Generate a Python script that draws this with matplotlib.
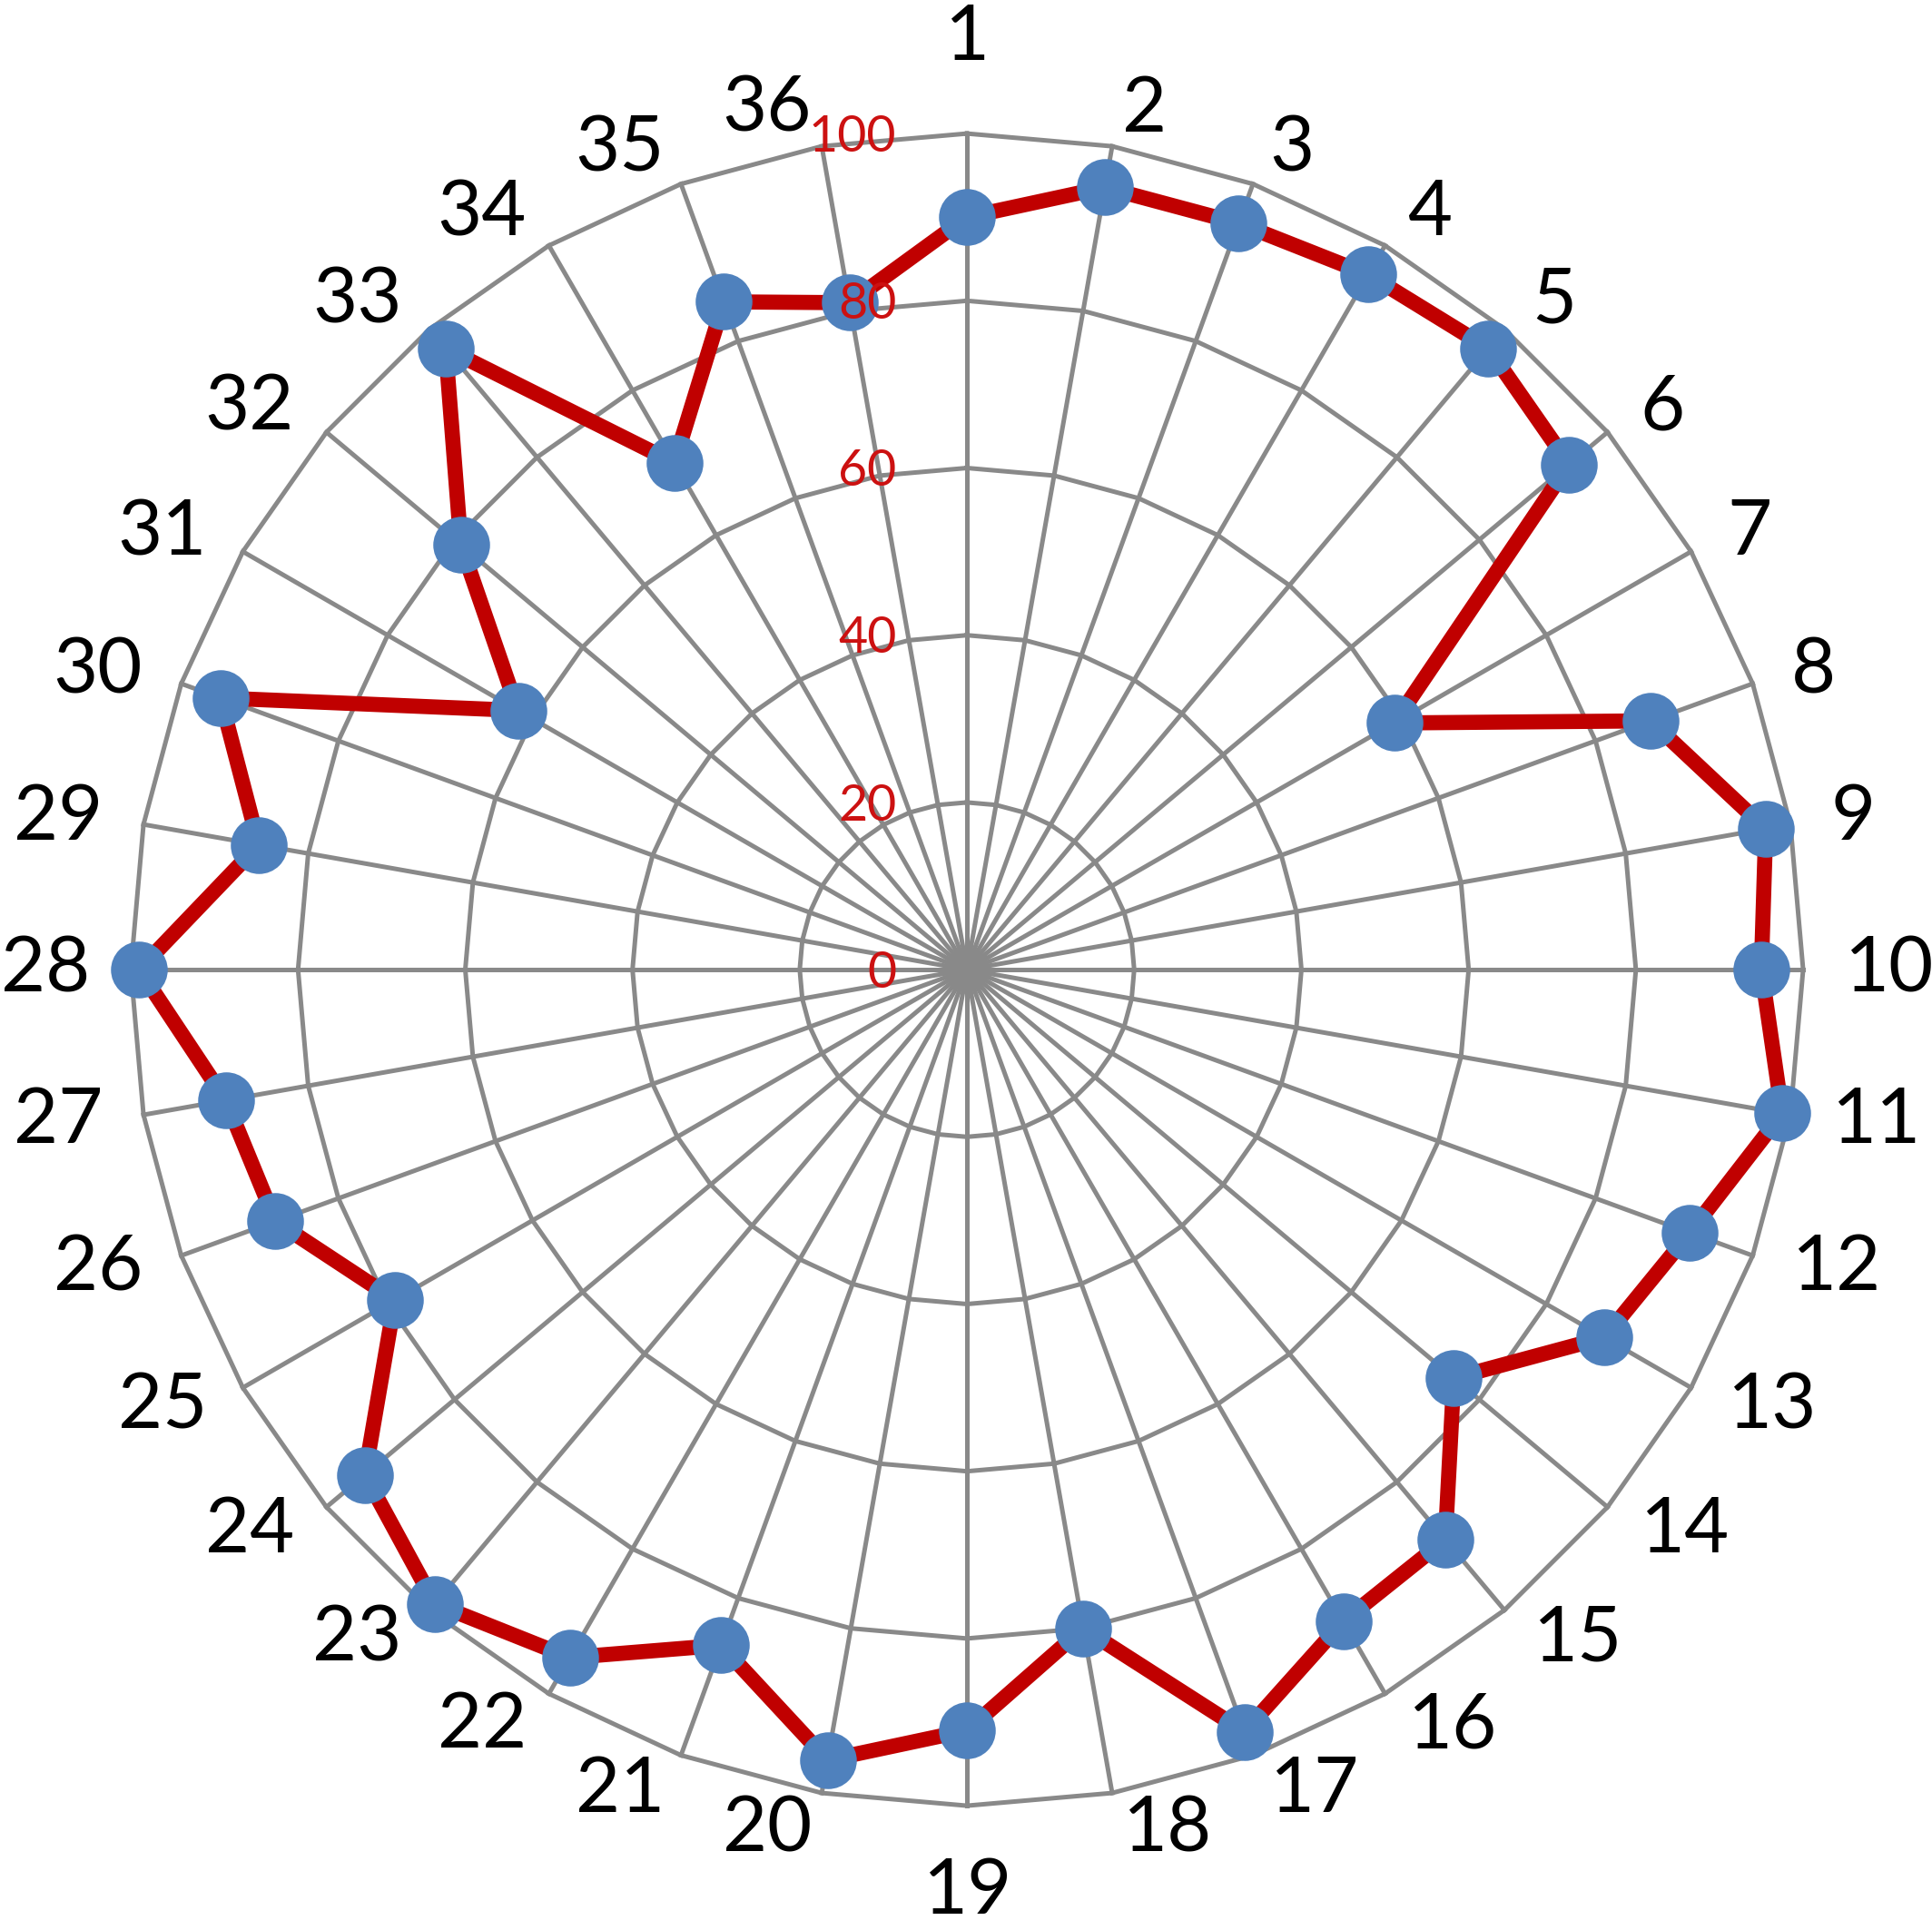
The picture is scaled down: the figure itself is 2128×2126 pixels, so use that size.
import numpy as np
import matplotlib
matplotlib.use("Agg")
import matplotlib.pyplot as plt

# category labels 1..36 and the values
categories = [str(i) for i in range(1, 37)]
values = [90, 95, 95, 96, 97, 94, 59, 87, 97, 95, 99, 92,
          88, 76, 89, 90, 97, 80, 91, 96, 86, 95, 99, 94,
          79, 88, 90, 99, 86, 95, 62, 79, 97, 70, 85, 81]
ring_levels = [20, 40, 60, 80, 100]
tick_labels = ["0", "20", "40", "60", "80", "100"]

GRID = "#898989"
LINE = "#C00000"
MARK = "#4F81BD"
TICK = "#CC1111"

fig = plt.figure(figsize=(21.28, 21.26), dpi=100)
ax = fig.add_axes([0.0677, 0.0644, 0.8656, 0.8664], projection="polar")
ax.set_theta_zero_location("N")
ax.set_theta_direction(-1)
ax.set_ylim(0, 100)
ax.grid(False)
ax.spines["polar"].set_visible(False)
ax.set_xticks([])
ax.set_yticks([])

n = len(categories)
angles = np.arange(n) * 2 * np.pi / n
closed = np.append(angles, angles[0])

# polygon rings
for lvl in ring_levels:
    ax.plot(closed, [lvl] * (n + 1), color=GRID, lw=3.6, zorder=1, clip_on=False)
# spokes
for a in angles:
    ax.plot([a, a], [0, 100], color=GRID, lw=3.6, zorder=1, clip_on=False)

# data series
vals = values + values[:1]
ax.plot(closed, vals, color=LINE, lw=12, zorder=3, clip_on=False)
ax.plot(angles, values, "o", color=MARK, ms=44, zorder=4, clip_on=False)

# category labels, placed off the end of each spoke like Excel does
D = 29.5   # push out along the spoke (points)
G = 3      # extra gap beside the spoke end (points)
for a, lab in zip(angles, categories):
    s, c = np.sin(a), np.cos(a)
    if abs(s) < 1e-6:
        ha, dx = "center", 0
        dy = 76 if c > 0 else -68
    else:
        ha = "left" if s > 0 else "right"
        dx, dy = D * s + np.sign(s) * G, D * c
    ax.annotate(lab, xy=(a, 100), xytext=(dx, dy), textcoords="offset points",
                ha=ha, va="center", fontsize=61, family="Lato", color="black",
                annotation_clip=False)

# radial value labels, left of the top spoke
for lvl, lab in zip([0] + ring_levels, tick_labels):
    ax.annotate(lab, xy=(0, lvl), xytext=(-56, -3), textcoords="offset points",
                ha="right", va="center", fontsize=40, family="Lato",
                color=TICK, zorder=5, annotation_clip=False)

fig.savefig("out.png", dpi=100)
